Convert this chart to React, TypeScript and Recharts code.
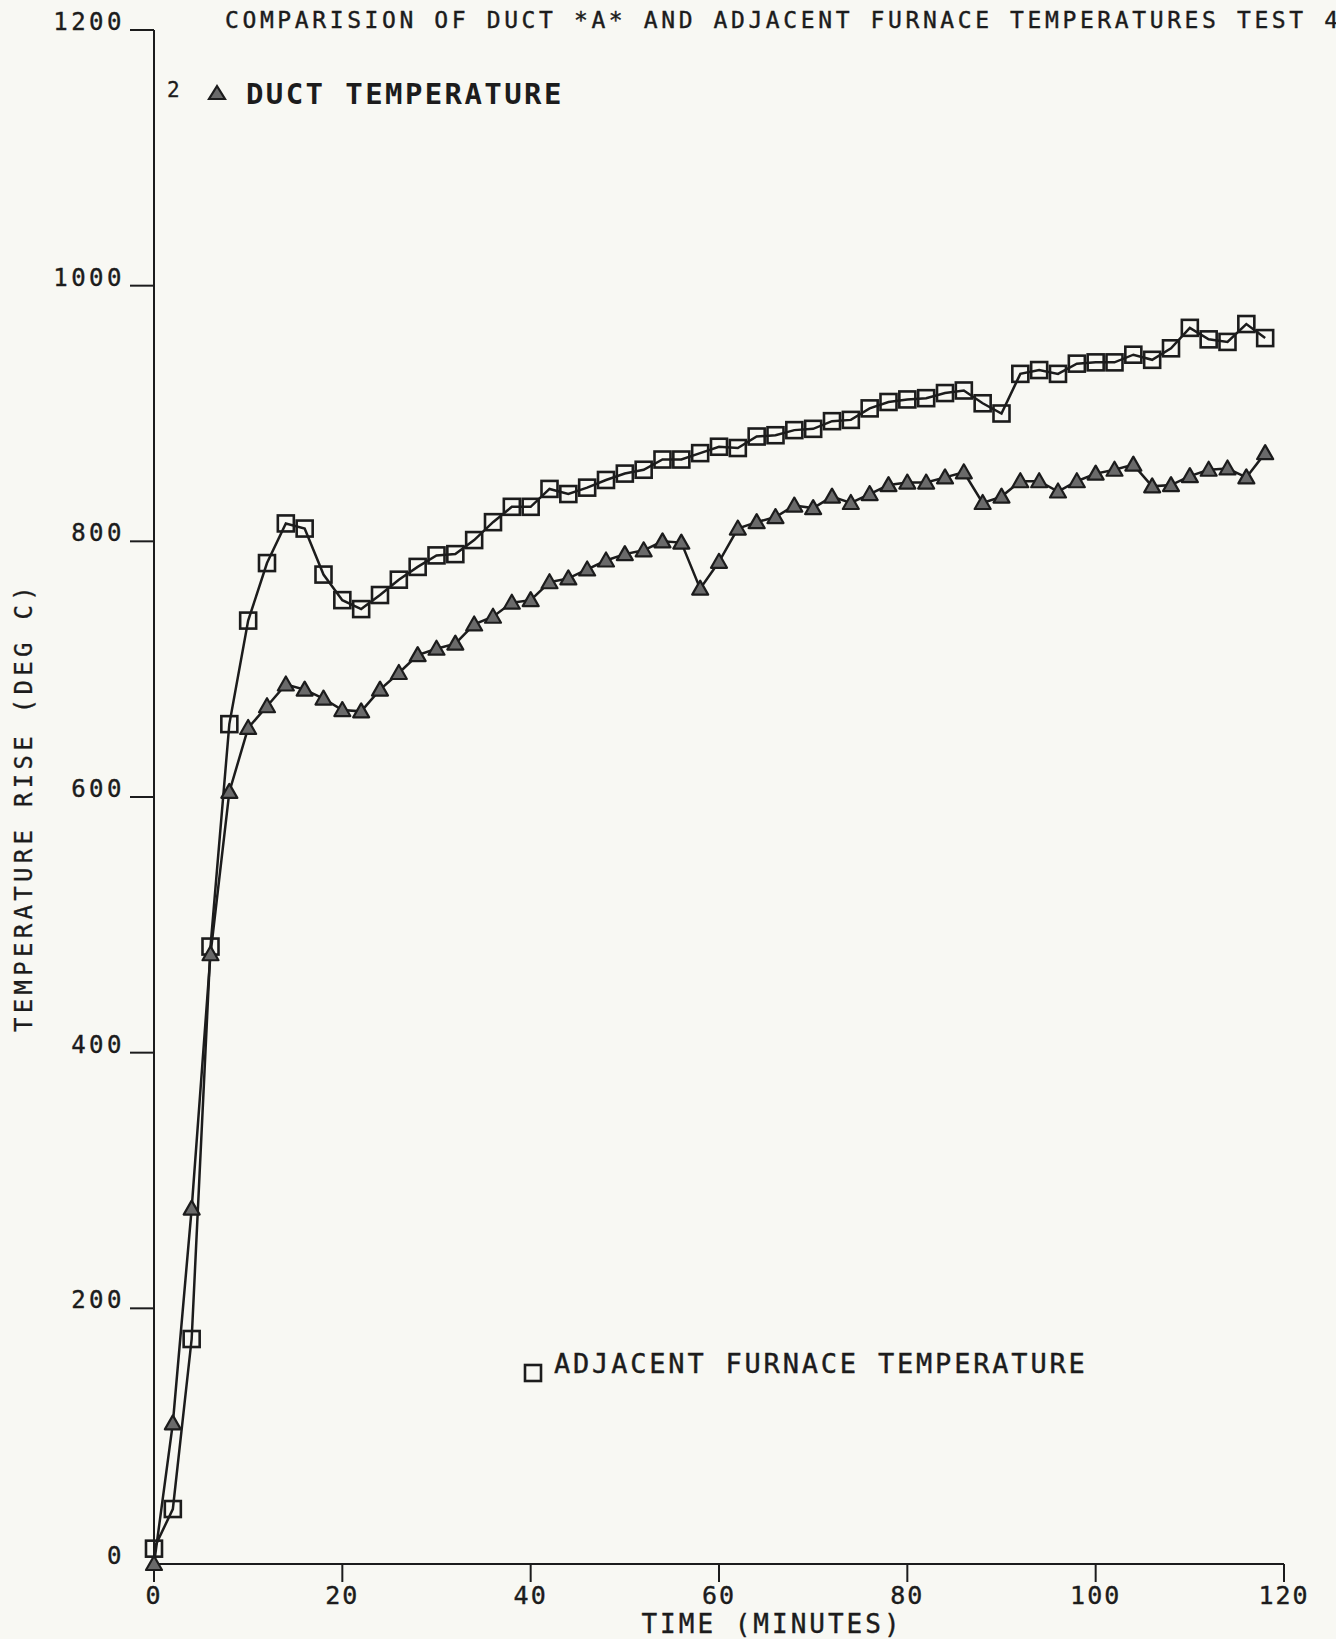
import React from "react";
import { LineChart, Line, XAxis, YAxis } from "recharts";

// time in minutes, one reading every 2 minutes
const minutes: number[] = [
  0, 2, 4, 6, 8, 10, 12, 14, 16, 18, 20, 22, 24, 26, 28, 30, 32, 34, 36, 38,
  40, 42, 44, 46, 48, 50, 52, 54, 56, 58, 60, 62, 64, 66, 68, 70, 72, 74, 76, 78,
  80, 82, 84, 86, 88, 90, 92, 94, 96, 98, 100, 102, 104, 106, 108, 110, 112, 114, 116, 118,
];

// adjacent furnace temperature (squares)
const furnaceTemp: number[] = [
  12, 43, 176, 483, 657, 738, 783, 814, 810, 774, 754, 747, 758, 770, 780, 789, 790, 801, 815, 827,
  827, 841, 837, 842, 848, 853, 856, 864, 864, 869, 874, 873, 882, 883, 887, 888, 894, 895, 904, 909,
  911, 912, 916, 918, 908, 900, 931, 934, 931, 939, 940, 940, 946, 942, 951, 967, 958, 956, 970, 959,
];

// duct temperature (triangles)
const ductTemp: number[] = [
  0, 110, 278, 477, 604, 654, 671, 688, 684, 677, 668, 667, 684, 697, 711, 716, 720, 735, 741, 752,
  754, 768, 771, 778, 785, 790, 793, 800, 799, 763, 784, 810, 815, 819, 828, 826, 835, 830, 837, 844,
  846, 846, 850, 854, 830, 835, 847, 847, 839, 847, 853, 856, 860, 843, 844, 851, 856, 857, 850, 869,
];

const xTicks = [0, 20, 40, 60, 80, 100, 120];
const yTicks = [0, 200, 400, 600, 800, 1000, 1200];

const rows = minutes.map((t, i) => ({ t, furnace: furnaceTemp[i], duct: ductTemp[i] }));

const INK = "#1c1c1c";
const FONT = "'DejaVu Sans Mono', monospace";

const SquareDot = (props: any) => {
  const { cx, cy, index } = props;
  if (cx == null || cy == null) return <g key={`s-${index}`} />;
  return (
    <rect
      key={`s-${index}`}
      x={cx - 8}
      y={cy - 8}
      width={16}
      height={16}
      fill="none"
      stroke={INK}
      strokeWidth={2.6}
    />
  );
};

const TriangleDot = (props: any) => {
  const { cx, cy, index } = props;
  if (cx == null || cy == null) return <g key={`t-${index}`} />;
  return (
    <path
      key={`t-${index}`}
      d={`M${cx},${cy - 8} L${cx - 8},${cy + 6} L${cx + 8},${cy + 6} Z`}
      fill="#6a6a6a"
      stroke={INK}
      strokeWidth={2.2}
      strokeLinejoin="round"
    />
  );
};

const XTick = (props: any) => {
  const { x, y, payload } = props;
  return (
    <text
      x={x}
      y={y + 20}
      textAnchor="middle"
      fontFamily={FONT}
      fontSize={25}
      letterSpacing={2}
      fill={INK}
      stroke={INK}
      strokeWidth={0.4}
    >
      {payload.value}
    </text>
  );
};

const YTick = (props: any) => {
  const { x, y, payload } = props;
  return (
    <g>
      {payload.value !== 0 && (
        <line x1={x} y1={y} x2={x + 24} y2={y} stroke={INK} strokeWidth={2} />
      )}
      <text
        x={x - 5}
        y={y}
        textAnchor="end"
        fontFamily={FONT}
        fontSize={24}
        letterSpacing={3.5}
        fill={INK}
        stroke={INK}
        strokeWidth={0.4}
      >
        {payload.value}
      </text>
    </g>
  );
};

const App: React.FC = () => {
  return (
    <div
      style={{
        position: "absolute",
        left: 0,
        top: 0,
        width: 1336,
        height: 1639,
        background: "#f8f8f3",
        overflow: "hidden",
      }}
    >
      <LineChart
        width={1336}
        height={1639}
        data={rows}
        margin={{ top: 30, right: 52, bottom: 30, left: 34 }}
      >
        <XAxis
          dataKey="t"
          type="number"
          domain={[0, 120]}
          ticks={xTicks}
          tickSize={18}
          height={45}
          stroke={INK}
          strokeWidth={2}
          tick={<XTick />}
          interval={0}
        />
        <YAxis
          type="number"
          domain={[0, 1200]}
          ticks={yTicks}
          width={120}
          tickSize={22}
          tickLine={false}
          stroke={INK}
          strokeWidth={2}
          tick={<YTick />}
          interval={0}
        />
        <Line
          dataKey="furnace"
          stroke={INK}
          strokeWidth={2.5}
          dot={SquareDot}
          isAnimationActive={false}
        />
        <Line
          dataKey="duct"
          stroke={INK}
          strokeWidth={2.5}
          dot={TriangleDot}
          isAnimationActive={false}
        />
      </LineChart>

      {/* plot annotations: title, legends, axis titles */}
      <svg
        width={1336}
        height={1639}
        style={{ position: "absolute", left: 0, top: 0, pointerEvents: "none" }}
      >
        <text
          x={225}
          y={28}
          fontFamily={FONT}
          fontSize={23}
          letterSpacing={3.6}
          fill={INK}
          stroke={INK}
          strokeWidth={0.4}
        >
          COMPARISION OF DUCT *A* AND ADJACENT FURNACE TEMPERATURES TEST 48
        </text>

        <text
          x={167}
          y={97}
          fontFamily={FONT}
          fontSize={21}
          fill={INK}
          stroke={INK}
          strokeWidth={0.3}
        >
          2
        </text>
        <path d="M217,86 L209,99 L225,99 Z" fill="#6a6a6a" stroke={INK} strokeWidth={2.2} />
        <text
          x={246}
          y={104}
          fontFamily={FONT}
          fontSize={29}
          fontWeight="bold"
          letterSpacing={2.4}
          fill={INK}
        >
          DUCT TEMPERATURE
        </text>

        <rect x={525} y={1365} width={16} height={16} fill="none" stroke={INK} strokeWidth={2.6} />
        <text
          x={554}
          y={1373}
          fontFamily={FONT}
          fontSize={27}
          letterSpacing={2.8}
          fill={INK}
          stroke={INK}
          strokeWidth={0.4}
        >
          ADJACENT FURNACE TEMPERATURE
        </text>

        <text
          x={772}
          y={1633}
          textAnchor="middle"
          fontFamily={FONT}
          fontSize={26}
          letterSpacing={3}
          fill={INK}
          stroke={INK}
          strokeWidth={0.4}
        >
          TIME (MINUTES)
        </text>

        <text
          transform="translate(32,807) rotate(-90)"
          textAnchor="middle"
          fontFamily={FONT}
          fontSize={24}
          letterSpacing={4.3}
          fill={INK}
          stroke={INK}
          strokeWidth={0.3}
        >
          TEMPERATURE RISE (DEG C)
        </text>
      </svg>
    </div>
  );
};

export default App;
